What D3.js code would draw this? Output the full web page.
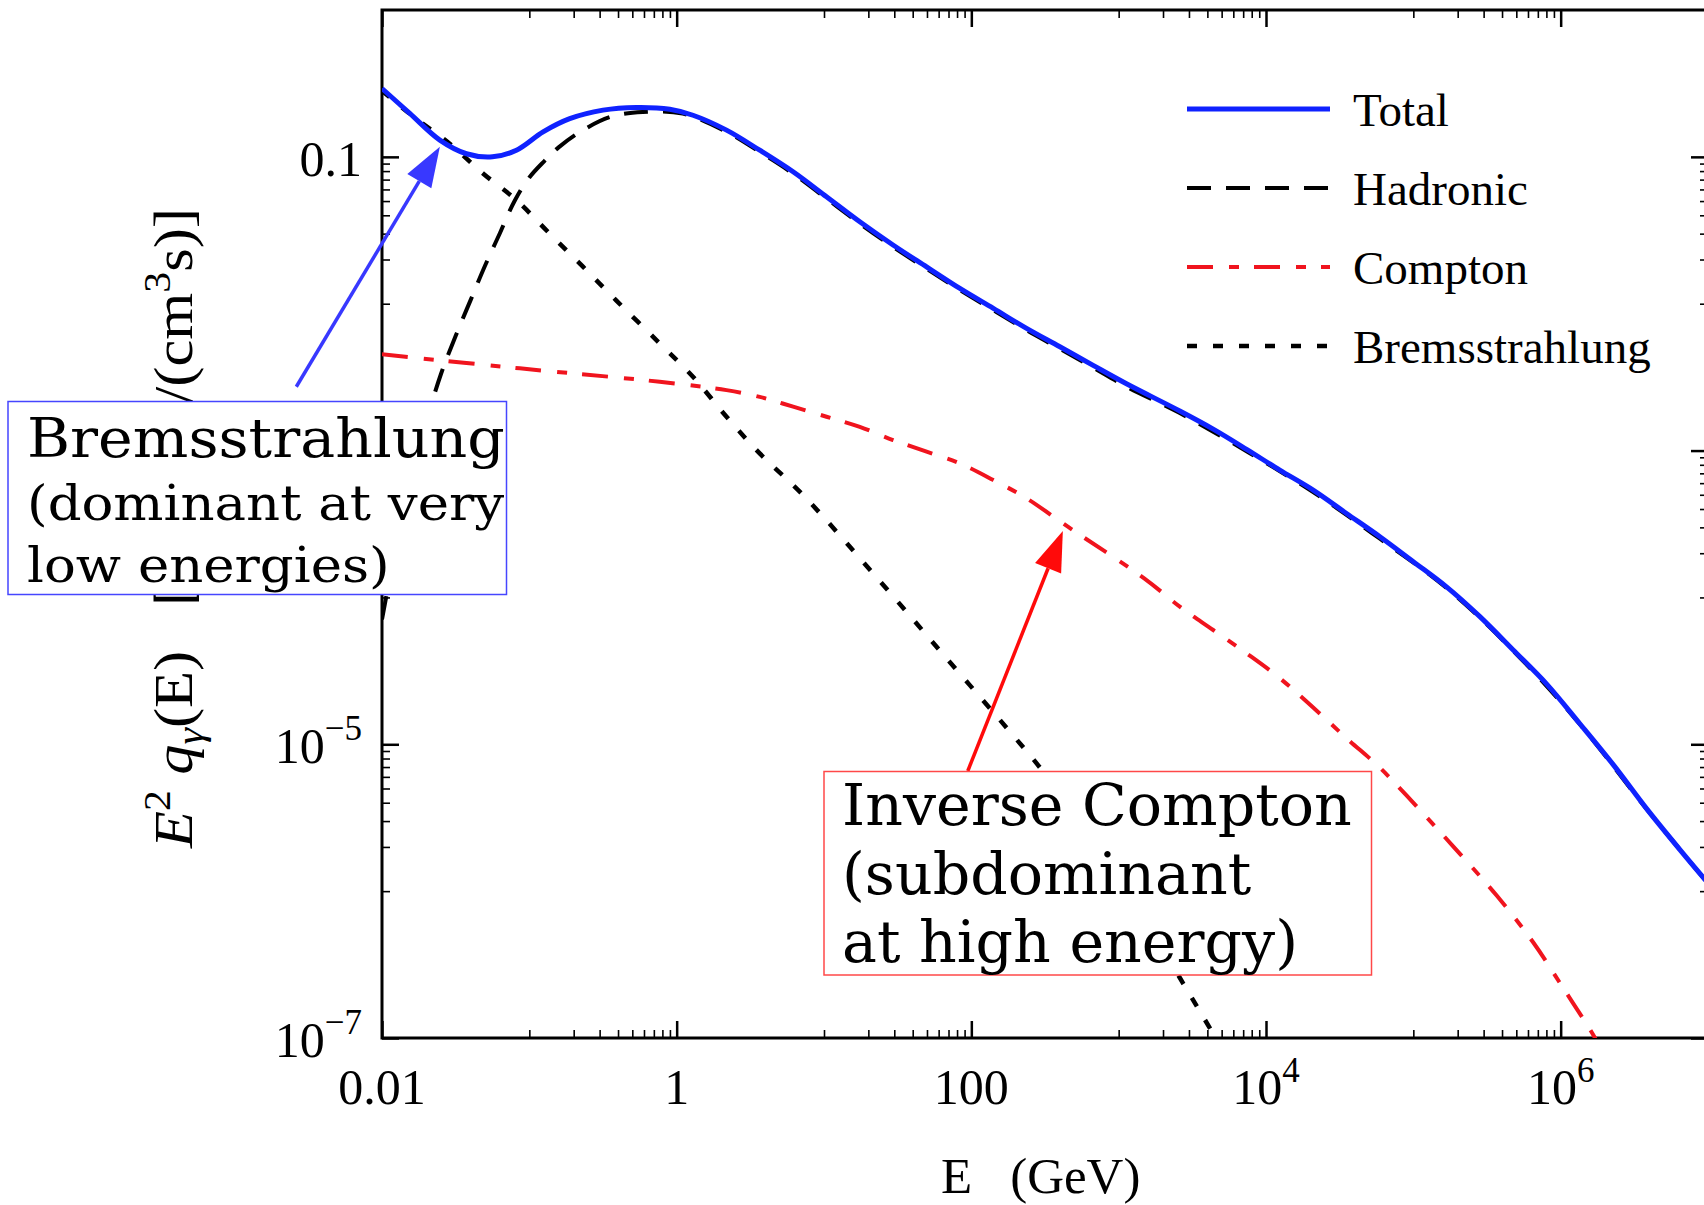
<!DOCTYPE html>
<html>
<head>
<meta charset="utf-8">
<script src="https://cdnjs.cloudflare.com/ajax/libs/d3/7.8.5/d3.min.js"></script>
<style>
  body { margin: 0; background: #fff; }
  svg { display: block; }
  .serif { font-family: "Liberation Serif", "Times New Roman", serif; fill: #000; }
  .note { font-family: "DejaVu Serif", serif; fill: #000; }
</style>
</head>
<body>
<div class="chart"></div>
<script>
// Energies in GeV, emissivity E^2 q(E) in GeV/(cm^3 s)
var totalE = [0.01, 0.0155, 0.0247, 0.0374, 0.0562, 0.0817, 0.124, 0.188, 0.316, 0.533, 0.898,
  1.29, 2.18, 3.66, 6.17, 10.4, 17.5, 29.4, 49.7, 83.6, 141, 237, 399, 671, 1130, 2600, 4380,
  7380, 12400, 20900, 35200, 59300, 1.0e5, 1.68e5, 2.83e5, 4.76e5, 8.04e5, 1.35e6, 2.28e6,
  3.84e6, 6.46e6, 1.0e7];
var totalQ = [0.292, 0.197, 0.130, 0.105, 0.100, 0.111, 0.148, 0.182, 0.208, 0.217, 0.211,
  0.192, 0.152, 0.111, 0.0791, 0.0535, 0.0361, 0.0251, 0.0178, 0.0127, 0.00929, 0.00679,
  0.00509, 0.00380, 0.00285, 0.00186, 0.00140, 0.00102, 7.36e-4, 5.38e-4, 3.73e-4, 2.59e-4,
  1.75e-4, 1.18e-4, 7.40e-5, 4.39e-5, 2.57e-5, 1.38e-5, 7.24e-6, 3.63e-6, 1.91e-6, 1.135e-6];

var hadronicE = [0.01, 0.0126, 0.0158, 0.02, 0.0251, 0.0316, 0.0398, 0.0501, 0.0631, 0.0794,
  0.1, 0.126, 0.158, 0.224, 0.355, 0.589, 1.10, 2.18, 3.66, 6.17, 10.4, 17.5, 29.4, 49.7, 83.6,
  141, 237, 399, 671, 1130, 2600, 7380, 20900, 59300, 1.68e5, 4.76e5, 1.35e6, 3.84e6, 1.0e7];
var hadronicQ = [7.08e-5, 2.40e-4, 6.76e-4, 1.58e-3, 3.31e-3, 6.03e-3, 0.0105, 0.0182, 0.0302,
  0.0501, 0.0724, 0.0933, 0.116, 0.149, 0.187, 0.202, 0.197, 0.148, 0.108, 0.0769, 0.0520,
  0.0351, 0.0244, 0.0173, 0.0124, 0.00904, 0.00661, 0.00494, 0.00367, 0.00272, 0.00180,
  9.89e-4, 5.21e-4, 2.51e-4, 1.16e-4, 4.34e-5, 1.37e-5, 3.61e-6, 1.13e-6];

var comptonE = [0.01, 0.0861, 0.767, 2.18, 3.66, 6.17, 10.4, 17.5, 29.4, 49.7, 83.6, 141, 237,
  452, 1490, 2600, 4380, 7380, 12400, 20900, 35200, 59300, 90200, 1.87e5, 3.68e5, 6.52e5,
  1.04e6, 1.62e6, 1.78e6];
var comptonQ = [0.00452, 0.00363, 0.00294, 0.00258, 0.00232, 0.00199, 0.0017, 0.00145, 0.00118,
  9.82e-4, 8.18e-4, 6.30e-4, 4.73e-4, 3.03e-4, 1.35e-4, 8.65e-5, 6.0e-5, 4.16e-5, 2.82e-5,
  1.78e-5, 1.10e-5, 6.92e-6, 4.47e-6, 2.01e-6, 9.33e-7, 4.47e-7, 2.19e-7, 1.10e-7, 9.3e-8];

var bremsE = [0.01, 0.0158, 0.0288, 0.0485, 0.0817, 0.137, 0.232, 0.390, 0.767, 1.29, 2.18,
  3.66, 7.21, 22.6, 66.5, 195, 315, 1000, 2750, 3850, 5010];
var bremsQ = [0.282, 0.193, 0.123, 0.0771, 0.0507, 0.0301, 0.0178, 0.0105, 0.00537, 0.00318,
  0.0017, 9.57e-4, 4.98e-4, 1.38e-4, 3.94e-5, 1.13e-5, 6.31e-6, 1.26e-6, 2.34e-7, 1.33e-7, 8.5e-8];

var seriesNames = ["Total", "Hadronic", "Compton", "Bremsstrahlung"];

// axis ticks and labels
var xMajor = [0.01, 1, 100, 1e4, 1e6];
var xTickBase = ["0.01", "1", "100", "10", "10"];
var xTickExp = ["", "", "", "4", "6"];
var xMinorDecades = [0.1, 10, 1e3, 1e5];

var yMajor = [1e-7, 1e-5, 1e-3, 0.1];
var yTickBase = ["10", "10", "10", "0.1"];
var yTickExp = ["\u22127", "\u22125", "\u22123", ""];
var yMinorDecades = [1e-6, 1e-4, 0.01];

// annotation arrows, [E, q] of tail and tip
var bremsArrow = [[0.00262, 0.00272], [0.0247, 0.117]];
var comptonArrow = [[94.6, 6.58e-6], [418, 2.83e-4]];

var svgWidth = 1704;
var svgHeight = 1205;
var margin = { top: 10, left: 382 };
var width = 1326;
var height = 1028;

var svg = d3.select(".chart")
  .append("svg")
  .attr("width", svgWidth)
  .attr("height", svgHeight);

var chartGroup = svg.append("g")
  .attr("transform", `translate(${margin.left}, ${margin.top})`);

var x = d3.scaleLog().domain([0.01, 1e7]).range([0, width]);
var y = d3.scaleLog().domain([1e-7, 1]).range([height, 0]);

var xMinor = [];
xMinorDecades.forEach(function(b) { d3.range(1, 10).forEach(function(m) { xMinor.push(m * b); }); });
var yMinor = [];
yMinorDecades.forEach(function(b) { d3.range(1, 10).forEach(function(m) { yMinor.push(m * b); }); });

// inward ticks on all four sides
function tickAxis(axisFn, scale, values, size, sw, transform) {
  chartGroup.append("g")
    .attr("transform", transform)
    .call(axisFn(scale).tickValues(values).tickSizeInner(-size).tickSizeOuter(0).tickFormat(""))
    .call(function(g) { g.select(".domain").remove(); })
    .selectAll("line")
    .attr("stroke", "#000")
    .attr("stroke-width", sw);
}
tickAxis(d3.axisBottom, x, xMajor, 17, 2.5, `translate(0, ${height})`);
tickAxis(d3.axisBottom, x, xMinor, 8, 1.6, `translate(0, ${height})`);
tickAxis(d3.axisTop, x, xMajor, 17, 2.5, "translate(0, 0)");
tickAxis(d3.axisTop, x, xMinor, 8, 1.6, "translate(0, 0)");
tickAxis(d3.axisLeft, y, yMajor, 17, 2.5, "translate(0, 0)");
tickAxis(d3.axisLeft, y, yMinor, 8, 1.6, "translate(0, 0)");
tickAxis(d3.axisRight, y, yMajor, 17, 2.5, `translate(${width}, 0)`);
tickAxis(d3.axisRight, y, yMinor, 8, 1.6, `translate(${width}, 0)`);

// frame
chartGroup.append("rect")
  .attr("width", width)
  .attr("height", height)
  .attr("fill", "none")
  .attr("stroke", "#000")
  .attr("stroke-width", 3);

// x tick labels
xMajor.forEach(function(v, i) {
  var t = chartGroup.append("text")
    .attr("class", "serif")
    .attr("x", x(v))
    .attr("y", height + 66)
    .attr("text-anchor", "middle")
    .attr("font-size", 50);
  t.append("tspan").text(xTickBase[i]);
  if (xTickExp[i]) t.append("tspan").attr("dy", -22).attr("font-size", 35).text(xTickExp[i]);
});

// y tick labels
yMajor.forEach(function(v, i) {
  var t = chartGroup.append("text")
    .attr("class", "serif")
    .attr("x", -20)
    .attr("y", y(v) + 19)
    .attr("text-anchor", "end")
    .attr("font-size", 50);
  t.append("tspan").text(yTickBase[i]);
  if (yTickExp[i]) t.append("tspan").attr("dy", -23).attr("font-size", 35).text(yTickExp[i]);
});

// axis titles
var xTitle = svg.append("text")
  .attr("class", "serif")
  .attr("x", 941)
  .attr("y", 1193)
  .attr("font-size", 51);
xTitle.append("tspan").text("E");
xTitle.append("tspan").attr("dx", 38).text("(GeV)");

// y title in two pieces, the middle of it sits under the annotation box
var yTitleA = svg.append("text")
  .attr("class", "serif")
  .attr("transform", "translate(192, 848) rotate(-90) scale(1.1, 1)")
  .attr("font-size", 55);
yTitleA.append("tspan").attr("font-style", "italic").text("E");
yTitleA.append("tspan").attr("dy", -22).attr("font-size", 38).text("2");
yTitleA.append("tspan").attr("dy", 22).attr("dx", 14).attr("font-style", "italic").text("q");
yTitleA.append("tspan").attr("dy", 11).attr("font-size", 38).attr("font-style", "italic").text("\u03b3");
yTitleA.append("tspan").attr("dy", -11).text("(E)");

var yTitleB = svg.append("text")
  .attr("class", "serif")
  .attr("transform", "translate(192, 208) rotate(-90) scale(1.1, 1)")
  .attr("text-anchor", "end")
  .attr("font-size", 55);
yTitleB.append("tspan").text("[");
yTitleB.append("tspan").attr("dx", 62).text("GeV/(cm");
yTitleB.append("tspan").attr("dy", -22).attr("font-size", 38).text("3");
yTitleB.append("tspan").attr("dy", 22).text("s)]");

// curves
var styles = {
  "Total": { color: "#0f22ff", width: 5, dash: null },
  "Hadronic": { color: "#000", width: 4, dash: "24,15" },
  "Compton": { color: "#f0141e", width: 4, dash: "26,16,10,15" },
  "Bremsstrahlung": { color: "#000", width: 4.5, dash: "10,16" }
};
var seriesData = {
  "Total": d3.zip(totalE, totalQ),
  "Hadronic": d3.zip(hadronicE, hadronicQ),
  "Compton": d3.zip(comptonE, comptonQ),
  "Bremsstrahlung": d3.zip(bremsE, bremsQ)
};

chartGroup.append("clipPath")
  .attr("id", "plot-clip")
  .append("rect")
  .attr("width", width)
  .attr("height", height);

var line = d3.line()
  .x(d => x(d[0]))
  .y(d => y(d[1]))
  .curve(d3.curveCatmullRom.alpha(0.5));

var curveGroup = chartGroup.append("g").attr("clip-path", "url(#plot-clip)");
["Compton", "Bremsstrahlung", "Hadronic", "Total"].forEach(function(name) {
  curveGroup.append("path")
    .datum(seriesData[name])
    .attr("d", line)
    .attr("fill", "none")
    .attr("stroke", styles[name].color)
    .attr("stroke-width", styles[name].width)
    .attr("stroke-dasharray", styles[name].dash);
});

// legend
var legend = svg.append("g").attr("transform", "translate(1187, 109)");
seriesNames.forEach(function(name, i) {
  legend.append("line")
    .attr("x1", 0)
    .attr("x2", 143)
    .attr("y1", i * 79)
    .attr("y2", i * 79)
    .attr("stroke", styles[name].color)
    .attr("stroke-width", styles[name].width)
    .attr("stroke-dasharray", styles[name].dash);
  legend.append("text")
    .attr("class", "serif")
    .attr("x", 166)
    .attr("y", i * 79 + 17)
    .attr("font-size", 47)
    .text(name);
});

// annotation arrows
function drawArrow(ends, color) {
  var x1 = x(ends[0][0]), y1 = y(ends[0][1]);
  var x2 = x(ends[1][0]), y2 = y(ends[1][1]);
  var ang = Math.atan2(y2 - y1, x2 - x1);
  var headLen = 40, headHalf = 14;
  var bx = x2 - headLen * Math.cos(ang), by = y2 - headLen * Math.sin(ang);
  chartGroup.append("line")
    .attr("x1", x1).attr("y1", y1)
    .attr("x2", bx).attr("y2", by)
    .attr("stroke", color)
    .attr("stroke-width", 3.5);
  chartGroup.append("polygon")
    .attr("points", [
      [x2, y2],
      [bx + headHalf * Math.sin(ang), by - headHalf * Math.cos(ang)],
      [bx - headHalf * Math.sin(ang), by + headHalf * Math.cos(ang)]
    ].map(p => p.join(",")).join(" "))
    .attr("fill", color);
}
drawArrow(bremsArrow, "#3838ff");
drawArrow(comptonArrow, "#ff0a0a");

// annotation boxes; each line has its own size and sideways stretch
function noteBox(bx, by, bw, bh, color, lines, textX, firstBase, lineGap) {
  svg.append("rect")
    .attr("x", bx).attr("y", by)
    .attr("width", bw).attr("height", bh)
    .attr("fill", "#fff")
    .attr("stroke", color)
    .attr("stroke-width", 1.5);
  lines.forEach(function(ln, i) {
    svg.append("text")
      .attr("class", "note")
      .attr("transform", `translate(${textX}, ${firstBase + i * lineGap}) scale(${ln.stretch}, 1)`)
      .attr("font-size", ln.size)
      .text(ln.text);
  });
}
noteBox(8, 401.5, 498.5, 193, "#4646ff", [
  { text: "Bremsstrahlung", size: 54, stretch: 1.086 },
  { text: "(dominant at very", size: 49, stretch: 1.08 },
  { text: "low energies)", size: 49, stretch: 1.08 }
], 27, 457, 62.5);
noteBox(824, 771.5, 547.5, 203.5, "#ff4848", [
  { text: "Inverse Compton", size: 57, stretch: 1.028 },
  { text: "(subdominant", size: 57, stretch: 1.028 },
  { text: "at high energy)", size: 57, stretch: 1.028 }
], 842, 825, 68.5);
</script>
</body>
</html>
